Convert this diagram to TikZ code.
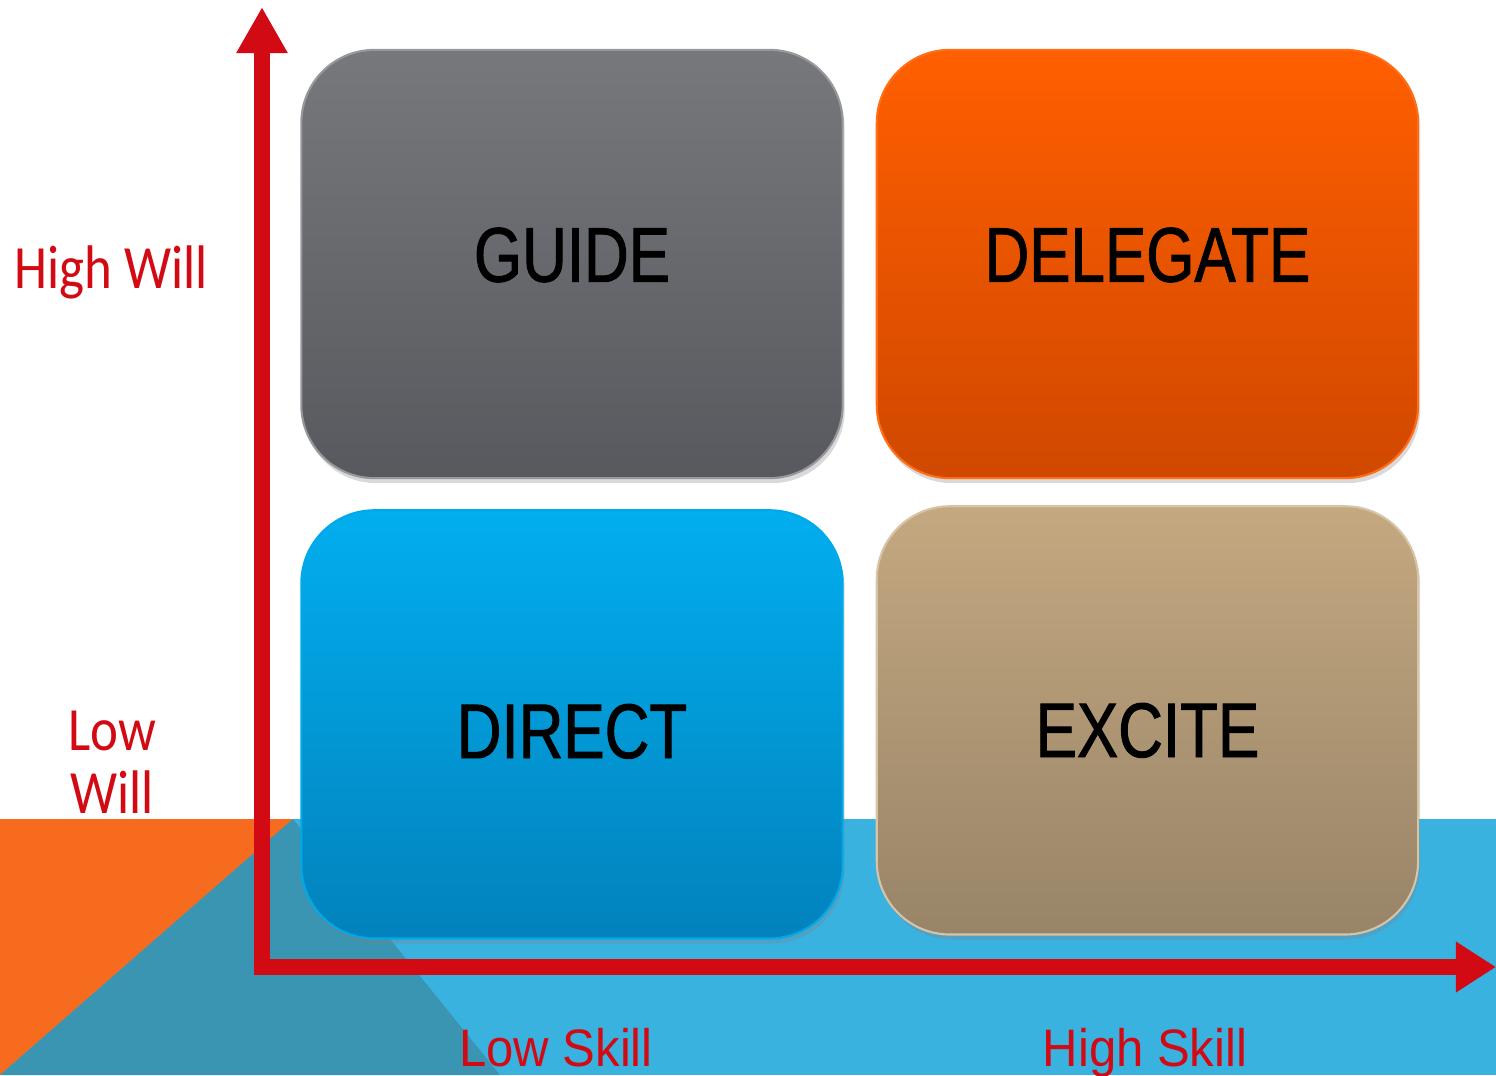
\documentclass[tikz,border=0pt]{standalone}
\usepackage{fontspec}
\usepackage{tikz}
\usetikzlibrary{positioning, arrows.meta, shadows}

\setmainfont{Liberation Sans}
\newfontfamily\quadfont[FakeStretch=0.8, FakeBold=1.2]{Liberation Sans}
\newfontfamily\willfont[FakeStretch=0.86]{Carlito}
\newfontfamily\skillfont[FakeStretch=0.93]{Liberation Sans}

\definecolor{axisred}{RGB}{210,10,20}
\definecolor{bandorange}{RGB}{247,107,30}
\definecolor{bandteal}{RGB}{58,149,178}
\definecolor{bandblue}{RGB}{58,178,224}

\begin{document}
\begin{tikzpicture}[x=0.01cm, y=-0.01cm,
    quad/.style={rounded corners=0.73cm, minimum width=5.41cm, minimum height=4.28cm, inner sep=0pt, line width=0.6pt, drop shadow={shadow xshift=0.02cm, shadow yshift=-0.05cm, opacity=0.3}},
    quad text/.style={text=black, inner sep=0pt, font=\quadfont\fontsize{22}{26}\selectfont},
    will label/.style={text=axisred, align=center, font=\willfont\fontsize{17.5}{18}\selectfont},
    skill label/.style={text=axisred, anchor=base, font=\skillfont\fontsize{15}{18}\selectfont},
    axis/.style={draw=axisred, line width=0.16cm, {Triangle[width=0.48cm, length=0.46cm]}-{Triangle[width=0.48cm, length=0.4cm]}}]

    \useasboundingbox (0,0) rectangle (1496,1075);

    % Band along the bottom
    \fill[bandblue] (0,819) rectangle (1496,1075);
    \fill[bandorange] (0,819) -- (293,819) -- (0,1075) -- cycle;
    \fill[bandteal] (293,819) -- (500,1075) -- (0,1075) -- cycle;

    % Quadrants
    \node[quad, top color={rgb,255:red,118;green,120;blue,124}, bottom color={rgb,255:red,88;green,89;blue,94}, draw={rgb,255:red,150;green,152;blue,156},
          label={[quad text, yshift=0.09cm]center:GUIDE}] (guide) at (572,264) {};
    \node[quad, top color={rgb,255:red,255;green,95;blue,0}, bottom color={rgb,255:red,208;green,72;blue,0}, draw={rgb,255:red,255;green,110;blue,20},
          label={[quad text, yshift=0.09cm]center:DELEGATE}] (delegate) [right=0.32cm of guide] {};
    \node[quad, top color={rgb,255:red,2;green,174;blue,239}, bottom color={rgb,255:red,2;green,130;blue,188}, draw={rgb,255:red,0;green,170;blue,232},
          label={[quad text, yshift=-0.07cm]center:DIRECT}] (direct) [below=0.3cm of guide] {};
    \node[quad, top color={rgb,255:red,196;green,168;blue,128}, bottom color={rgb,255:red,152;green,132;blue,104}, draw={rgb,255:red,215;green,195;blue,165},
          label={[quad text, yshift=-0.1cm]center:EXCITE}] (excite) [right=0.32cm of direct, yshift=0.04cm] {};

    % Axes
    \coordinate (origin) at (262,967);
    \coordinate (ytip) at (262,7);
    \coordinate (xtip) at (1496,967);
    \draw[axis] (ytip) -- (origin) -- (xtip);

    % Axis labels
    \node[will label] (highwill) at (111,272) {High Will};
    \node[will label] (lowwill) at (112,762) {Low\\Will};
    \node[skill label] (lowskill) at (556,1066) {Low Skill};
    \node[skill label] (highskill) at (1145,1066) {High Skill};
\end{tikzpicture}
\end{document}
